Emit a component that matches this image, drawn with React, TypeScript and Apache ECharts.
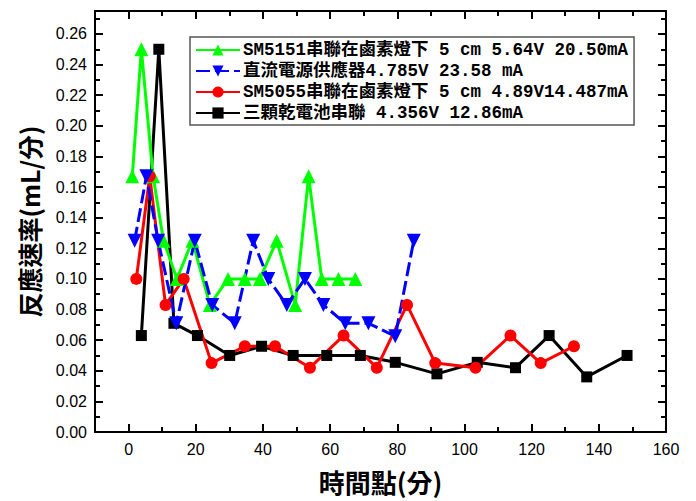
import React, { useEffect, useRef } from 'react';
import * as echarts from 'echarts';

const greenName = 'SM5151串聯在鹵素燈下 5 cm 5.64V 20.50mA';
const blueName = '直流電源供應器4.785V 23.58 mA';
const redName = 'SM5055串聯在鹵素燈下 5 cm 4.89V14.487mA';
const blackName = '三顆乾電池串聯 4.356V 12.86mA';

const greenX = [1.1, 3.8, 7.3, 10.4, 14.4, 19.0, 24.2, 29.6, 34.6, 39.1, 44.1, 49.6, 53.6, 57.5, 62.5, 67.5];
const greenY = [0.167, 0.25, 0.167, 0.125, 0.1, 0.125, 0.083, 0.1, 0.1, 0.1, 0.125, 0.083, 0.167, 0.1, 0.1, 0.1];

const blueX = [1.8, 5.3, 8.8, 14.2, 19.7, 24.9, 31.6, 37.1, 41.6, 47.1, 52.5, 58.0, 64.5, 71.4, 79.4, 84.9];
const blueY = [0.125, 0.167, 0.125, 0.071, 0.125, 0.083, 0.071, 0.125, 0.1, 0.083, 0.1, 0.083, 0.071, 0.071, 0.0625, 0.125];

const redX = [2.3, 6.3, 11.0, 16.4, 24.7, 34.6, 43.6, 54.0, 64.0, 73.9, 82.9, 91.3, 103.3, 113.7, 122.7, 132.6];
const redY = [0.1, 0.167, 0.083, 0.1, 0.045, 0.056, 0.056, 0.042, 0.063, 0.042, 0.083, 0.045, 0.042, 0.063, 0.045, 0.056];

const blackX = [3.8, 9.0, 13.5, 20.5, 30.1, 39.6, 49.0, 59.0, 69.0, 79.4, 91.8, 103.8, 115.2, 125.2, 136.4, 148.4];
const blackY = [0.063, 0.25, 0.071, 0.063, 0.05, 0.056, 0.05, 0.05, 0.05, 0.0455, 0.038, 0.0455, 0.042, 0.063, 0.036, 0.05];

const xMajor = [0, 20, 40, 60, 80, 100, 120, 140, 160];
const xMinor = [10, 30, 50, 70, 90, 110, 130, 150];

const X_MIN = -10;
const X_MAX = 160;
const Y_MIN = 0;
const Y_MAX = 0.275;

function pairs(xs: number[], ys: number[]) {
  return xs.map((x, i) => [x, ys[i]]);
}

export default function App() {
  const ref = useRef<HTMLDivElement>(null);
  useEffect(() => {
    if (!ref.current) return;
    const chart = echarts.init(ref.current, undefined, { renderer: 'svg' });
    const axisLine = { show: true, onZero: false, lineStyle: { color: '#000', width: 2 } };
    const hiddenX = (position: string, values: number[], len: number, showLine: boolean) => ({
      type: 'value',
      position,
      min: X_MIN,
      max: X_MAX,
      axisLine: showLine ? axisLine : { show: false, onZero: false },
      axisLabel: { show: false },
      splitLine: { show: false },
      axisTick: { show: true, inside: true, length: len, customValues: values, lineStyle: { color: '#000', width: 2 } },
    });
    const labelFont = { fontFamily: "'Liberation Sans', Arial, sans-serif", fontSize: 16, color: '#000' };
    chart.setOption({
      animation: false,
      backgroundColor: '#fff',
      grid: { left: 95, right: 30, top: 11, bottom: 69, containLabel: false },
      xAxis: [
        {
          type: 'value',
          position: 'bottom',
          min: X_MIN,
          max: X_MAX,
          axisLine,
          splitLine: { show: false },
          axisTick: { show: true, inside: true, length: 8, customValues: xMajor, lineStyle: { color: '#000', width: 2 } },
          axisLabel: { show: true, customValues: xMajor, margin: 9, ...labelFont },
          name: '時間點(分)',
          nameLocation: 'middle',
          nameGap: 36,
          nameTextStyle: { fontFamily: "'Noto Sans CJK TC', sans-serif", fontSize: 26, fontWeight: 'bold', color: '#000' },
        },
        hiddenX('bottom', xMinor, 5, false),
        hiddenX('top', xMajor, 8, true),
        hiddenX('top', xMinor, 5, false),
      ],
      yAxis: [
        {
          type: 'value',
          position: 'left',
          min: Y_MIN,
          max: Y_MAX,
          interval: 0.02,
          axisLine,
          splitLine: { show: false },
          axisTick: { show: true, inside: true, length: 8, lineStyle: { color: '#000', width: 2 } },
          minorTick: { show: true, splitNumber: 2, length: 5, lineStyle: { color: '#000', width: 2 } },
          axisLabel: {
            show: true,
            margin: 8,
            showMaxLabel: false,
            formatter: (v: number) => (v > 0.265 ? '' : v.toFixed(2)),
            ...labelFont,
          },
          name: '反應速率(mL/分)',
          nameLocation: 'middle',
          nameRotate: 90,
          nameGap: 54,
          nameTextStyle: { fontFamily: "'Noto Sans CJK TC', sans-serif", fontSize: 25, fontWeight: 'bold', color: '#000' },
        },
        {
          type: 'value',
          position: 'right',
          min: Y_MIN,
          max: Y_MAX,
          interval: 0.02,
          axisLine,
          splitLine: { show: false },
          axisTick: { show: true, inside: true, length: 8, lineStyle: { color: '#000', width: 2 } },
          minorTick: { show: true, splitNumber: 2, length: 5, lineStyle: { color: '#000', width: 2 } },
          axisLabel: { show: false },
        },
      ],
      legend: {
        show: true,
        orient: 'vertical',
        left: 190,
        top: 37,
        selectedMode: false,
        data: [greenName, blueName, redName, blackName],
        itemWidth: 44,
        itemHeight: 14,
        itemGap: 3,
        padding: [4, 6, 3, 5],
        borderColor: '#555',
        borderWidth: 1.5,
        backgroundColor: '#fff',
        textStyle: {
          fontFamily: "'Liberation Mono', 'Noto Sans CJK TC', monospace",
          fontWeight: 'bold',
          fontSize: 17.5,
          lineHeight: 18,
          color: '#000',
          padding: [0, 0, 0, -2],
        },
      },
      series: [
        {
          name: blackName,
          type: 'line',
          data: pairs(blackX, blackY),
          symbol: 'rect',
          symbolSize: 11,
          lineStyle: { color: '#000', width: 3 },
          itemStyle: { color: '#000' },
        },
        {
          name: greenName,
          type: 'line',
          data: pairs(greenX, greenY),
          symbol: 'triangle',
          symbolSize: 14,
          lineStyle: { color: '#00ff00', width: 3 },
          itemStyle: { color: '#00ff00' },
        },
        {
          name: redName,
          type: 'line',
          data: pairs(redX, redY),
          symbol: 'circle',
          symbolSize: 12,
          lineStyle: { color: '#ff0000', width: 3 },
          itemStyle: { color: '#ff0000' },
        },
        {
          name: blueName,
          type: 'line',
          data: pairs(blueX, blueY),
          symbol: 'triangle',
          symbolRotate: 180,
          symbolSize: 14,
          lineStyle: { color: '#0000ff', width: 3, type: [14, 5] },
          itemStyle: { color: '#0000ff' },
        },
      ],
    });
    return () => chart.dispose();
  }, []);
  return <div ref={ref} style={{ position: 'fixed', left: 0, top: 0, width: 696, height: 501 }} />;
}
